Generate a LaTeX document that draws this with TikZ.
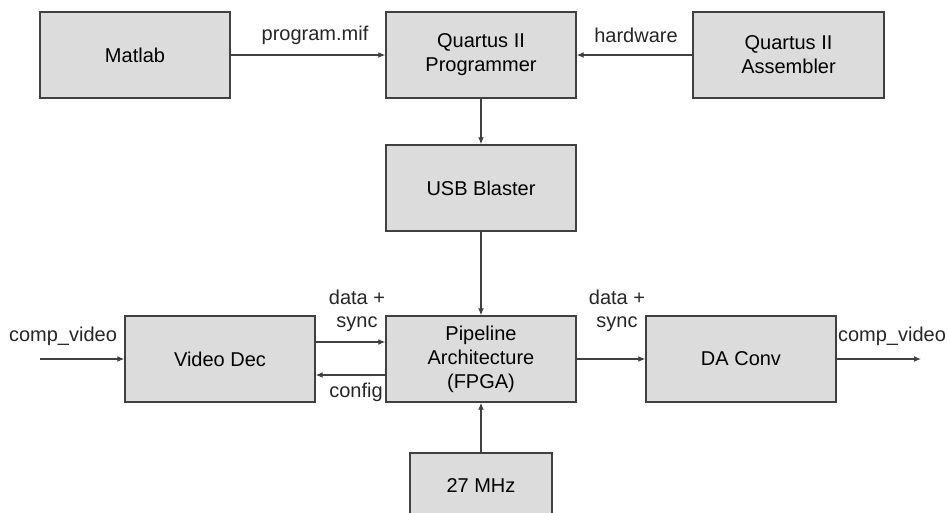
\documentclass[tikz,border=0pt]{standalone}
\usepackage{fontspec}
\setmainfont{Liberation Sans}
\usetikzlibrary{arrows.meta}
\definecolor{boxfill}{HTML}{DCDCDC}
\definecolor{edge}{HTML}{404040}
\begin{document}
\begin{tikzpicture}[x=1pt,y=-1pt,
  blk/.style={draw=edge, line width=1.4pt, fill=boxfill, minimum width=190pt, minimum height=86pt, inner sep=0pt, align=center, font=\fontsize{20}{24}\selectfont},
  lbl/.style={inner sep=0pt, align=center, font=\fontsize{20}{23}\selectfont, text=black!85},
  conn/.style={draw=edge, line width=1.3pt, -{Latex[length=7pt,width=6pt]}}]
\useasboundingbox (0,0) rectangle (948,513);
\clip (0,0) rectangle (948,513);
\node[blk] (matlab) at (135,55) {Matlab};
\node[blk] (prog) at (481,55) {Quartus II\\Programmer};
\node[blk, minimum width=191pt] (asm) at (788.5,55) {Quartus II\\Assembler};
\node[blk] (usb) at (481,188) {USB Blaster};
\node[blk] (vdec) at (220,359) {Video Dec};
\node[blk] (pipe) at (481,359) {Pipeline\\Architecture\\(FPGA)};
\node[blk] (da) at (741,359) {DA Conv};
\node[blk, minimum width=142pt, minimum height=66pt] (clk) at (481,486) {27 MHz};
\coordinate (vin) at (40,359);
\coordinate (vout) at (921,359);
\draw[conn] (matlab.east) -- (prog.west);
\draw[conn] (asm.west) -- (prog.east);
\draw[conn] (prog.south) -- (usb.north);
\draw[conn] (usb.south) -- (pipe.north);
\draw[conn] ([yshift=17pt]vdec.east) -- ([yshift=17pt]pipe.west);
\draw[conn] ([yshift=-16pt]pipe.west) -- ([yshift=-16pt]vdec.east);
\draw[conn] (pipe.east) -- (da.west);
\draw[conn] (vin) -- (vdec.west);
\draw[conn] (da.east) -- (vout);
\draw[conn] (clk.north) -- (pipe.south);
\node[lbl] (lprog) at (315,35) {program.mif};
\node[lbl] (lhw) at (636,35) {hardware};
\node[lbl] (lds1) at (357,311) {data +\\sync};
\node[lbl] (lds2) at (617,311) {data +\\sync};
\node[lbl] (lcfg) at (356,392) {config};
\node[lbl] (lin) at (63,336) {comp\_video};
\node[lbl] (lout) at (892,336) {comp\_video};
\end{tikzpicture}
\end{document}
